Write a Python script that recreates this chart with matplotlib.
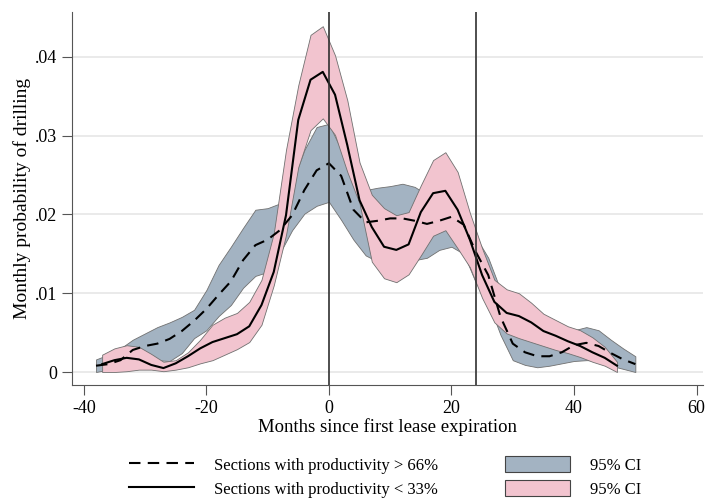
import numpy as np
import matplotlib.pyplot as plt
from matplotlib.lines import Line2D
from matplotlib.patches import Patch

plt.rcParams['font.family'] = ['Liberation Serif', 'DejaVu Serif']
plt.rcParams['axes.unicode_minus'] = False

# high productivity sections (> 66%), every 2 months
months_hi = list(range(-38, 51, 2))
prob_hi = [0.0008, 0.0010, 0.0015, 0.0028, 0.0033, 0.0036, 0.0042, 0.0052, 0.0065, 0.0080,
           0.0098, 0.0115, 0.0142, 0.0161, 0.0168, 0.0180, 0.0199, 0.0231, 0.0256, 0.0265,
           0.0249, 0.0206, 0.0190, 0.0192, 0.0195, 0.0195, 0.0192, 0.0188, 0.0192, 0.0197,
           0.0187, 0.0152, 0.0123, 0.0070, 0.0036, 0.0025, 0.0020, 0.0020, 0.0025, 0.0034,
           0.0037, 0.0033, 0.0024, 0.0016, 0.0010]
ci_hi_up = [0.0016, 0.0022, 0.0030, 0.0041, 0.0049, 0.0057, 0.0063, 0.0070, 0.0079, 0.0104,
            0.0136, 0.0159, 0.0183, 0.0206, 0.0208, 0.0214, 0.0240, 0.0282, 0.0311, 0.0315,
            0.0282, 0.0246, 0.0231, 0.0234, 0.0236, 0.0239, 0.0235, 0.0225, 0.0218, 0.0218,
            0.0199, 0.0171, 0.0145, 0.0104, 0.0063, 0.0047, 0.0041, 0.0041, 0.0044, 0.0053,
            0.0057, 0.0053, 0.0041, 0.0030, 0.0020]
ci_hi_lo = [0.0000, 0.0003, 0.0008, 0.0015, 0.0023, 0.0015, 0.0014, 0.0024, 0.0043, 0.0053,
            0.0071, 0.0085, 0.0107, 0.0122, 0.0127, 0.0151, 0.0180, 0.0201, 0.0211, 0.0216,
            0.0193, 0.0168, 0.0148, 0.0140, 0.0140, 0.0140, 0.0142, 0.0145, 0.0155, 0.0159,
            0.0150, 0.0113, 0.0088, 0.0047, 0.0015, 0.0009, 0.0006, 0.0008, 0.0011, 0.0014,
            0.0015, 0.0015, 0.0008, 0.0004, 0.0000]

# low productivity sections (< 33%)
months_lo = list(range(-37, 48, 2))
prob_lo = [0.0010, 0.0015, 0.0018, 0.0016, 0.0009, 0.0005, 0.0011, 0.0020, 0.0030, 0.0038,
           0.0043, 0.0048, 0.0058, 0.0085, 0.0127, 0.0199, 0.0320, 0.0371, 0.0381, 0.0352,
           0.0288, 0.0218, 0.0184, 0.0159, 0.0155, 0.0162, 0.0203, 0.0227, 0.0230, 0.0206,
           0.0168, 0.0123, 0.0089, 0.0075, 0.0071, 0.0063, 0.0052, 0.0046, 0.0039, 0.0033,
           0.0025, 0.0018, 0.0008]
ci_lo_up = [0.0022, 0.0030, 0.0034, 0.0032, 0.0023, 0.0013, 0.0015, 0.0025, 0.0041, 0.0060,
            0.0069, 0.0075, 0.0089, 0.0117, 0.0176, 0.0282, 0.0364, 0.0428, 0.0439, 0.0402,
            0.0345, 0.0266, 0.0225, 0.0208, 0.0199, 0.0203, 0.0237, 0.0269, 0.0279, 0.0254,
            0.0202, 0.0157, 0.0117, 0.0105, 0.0100, 0.0088, 0.0074, 0.0066, 0.0058, 0.0053,
            0.0044, 0.0032, 0.0013]
ci_lo_lo = [0.0000, 0.0000, 0.0001, 0.0003, 0.0003, 0.0001, 0.0003, 0.0006, 0.0011, 0.0015,
            0.0022, 0.0029, 0.0038, 0.0060, 0.0110, 0.0174, 0.0260, 0.0307, 0.0322, 0.0301,
            0.0254, 0.0214, 0.0140, 0.0119, 0.0114, 0.0124, 0.0148, 0.0173, 0.0180, 0.0157,
            0.0133, 0.0094, 0.0063, 0.0049, 0.0043, 0.0038, 0.0033, 0.0028, 0.0024, 0.0019,
            0.0013, 0.0008, 0.0000]

xticks = [-40, -20, 0, 20, 40, 60]
yticks = [0, 0.01, 0.02, 0.03, 0.04]
ylabels = ['0', '.01', '.02', '.03', '.04']

blue = '#a3b3c2'
pink = '#f2c4cf'
edge = '#707070'

fig = plt.figure(figsize=(7.07, 5.0), dpi=100)
ax = fig.add_axes([0.102, 0.23, 0.892, 0.746])

ax.fill_between(months_hi, ci_hi_lo, ci_hi_up, facecolor=blue, edgecolor=edge, linewidth=0.6, zorder=2)
ax.fill_between(months_lo, ci_lo_lo, ci_lo_up, facecolor=pink, edgecolor=edge, linewidth=0.6, zorder=3)
ax.plot(months_hi, prob_hi, color='black', linestyle=(0, (5.5, 3.5)), linewidth=1.5, zorder=4)
ax.plot(months_lo, prob_lo, color='black', linewidth=1.5, zorder=4)

# lease expiration and +24 months
ax.axvline(0, color='#303030', linewidth=1.2, zorder=5)
ax.axvline(24, color='#303030', linewidth=1.2, zorder=5)

ax.set_xlim(-41.9, 61.0)
ax.set_ylim(-0.00165, 0.0457)
ax.set_xticks(xticks)
ax.set_yticks(yticks)
ax.set_yticklabels(ylabels)
ax.yaxis.grid(True, color='#e6e6e6', linewidth=1.2, zorder=0)
ax.set_axisbelow(True)
for s in ['top', 'right']:
    ax.spines[s].set_visible(False)
for s in ['left', 'bottom']:
    ax.spines[s].set_color('#555555')
ax.tick_params(direction='out', length=7, color='#555555', labelsize=13)
ax.set_xlabel('Months since first lease expiration', fontsize=13.5, labelpad=1)
ax.set_ylabel('Monthly probability of drilling', fontsize=14, labelpad=3)

handles = [Line2D([], [], color='black', linestyle=(0, (5.5, 3.5)), linewidth=1.5),
           Line2D([], [], color='black', linewidth=1.5),
           Patch(facecolor=blue, edgecolor='#444444', linewidth=0.8),
           Patch(facecolor=pink, edgecolor='#444444', linewidth=0.8)]
labels = ['Sections with productivity > 66%', 'Sections with productivity < 33%', '95% CI', '95% CI']
fig.legend(handles, labels, ncol=2, loc='lower center', bbox_to_anchor=(0.545, -0.025),
           frameon=False, fontsize=12, handlelength=3.9, handleheight=1.15,
           columnspacing=4.0, labelspacing=0.35, handletextpad=1.2)

fig.savefig('out.png', dpi=100)
